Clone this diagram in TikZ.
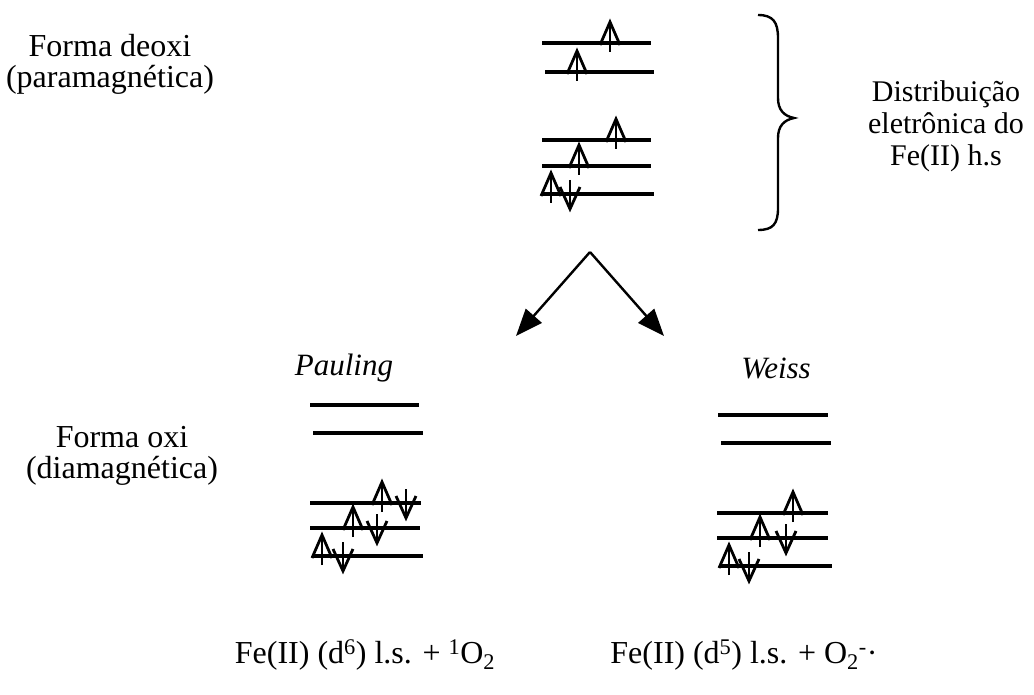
\documentclass[tikz,border=0pt]{standalone}
\usepackage{fontspec}
\setmainfont{Liberation Serif}
\usetikzlibrary{arrows.meta}
\tikzset{
  txt/.style={font=\fontsize{30}{32}\selectfont, inner sep=0pt, align=center},
  sidetxt/.style={font=\fontsize{32}{31}\selectfont, inner sep=0pt, align=center},
  bigtxt/.style={font=\fontsize{32}{34}\selectfont, inner sep=0pt},
  level/.style={line width=3.2pt},
  spin/.style={line width=2.8pt},
  spinup/.pic={
    \draw[spin] (0,9) -- (0,-21);
    \draw[spin, line join=miter] (-10,2) -- (0,-21) -- (10,2);
  },
  spindown/.pic={
    \draw[spin] (0,-14) -- (0,15);
    \draw[spin, line join=miter] (-10,-7) -- (0,15) -- (10,-7);
  },
  route/.style={line width=2.4pt, -{Triangle[length=27pt,width=21pt]}}
}
\begin{document}
\begin{tikzpicture}[x=1pt, y=-1pt]
\useasboundingbox (0,0) rectangle (1034,695);

% left-hand labels
\node[sidetxt] (deoxi) at (110,64) {Forma deoxi\\(paramagnética)};
\node[sidetxt] (oxi) at (122,456) {Forma oxi\\(diamagnética)};

% Fe(II) high spin d6 levels
\draw[level] (542,43) -- (651,43);
\draw[level] (545,72) -- (654,72);
\draw[level] (542,140) -- (651,140);
\draw[level] (542,166) -- (651,166);
\draw[level] (542,194) -- (654,194);
\pic at (610,43) {spinup};
\pic at (577,72) {spinup};
\pic at (616,140) {spinup};
\pic at (579,166) {spinup};
\pic at (551,194) {spinup};
\pic at (570,194) {spindown};

% brace and its caption
\draw[line width=2.4pt] (758,15) .. controls (773,15) and (778,22) .. (778,38)
  -- (778,98) .. controls (778,110) and (784,116) .. (794,118)
  .. controls (784,120) and (778,126) .. (778,138)
  -- (778,208) .. controls (778,224) and (773,230) .. (758,230);
\node[txt] (distr) at (946,126) {Distribuição\\eletrônica do\\Fe(II) h.s};

% the two models
\coordinate (apex) at (590,252);
\node[txt, font=\fontsize{31}{32}\selectfont\itshape] (pauling) at (344,368) {Pauling};
\node[txt, font=\fontsize{31}{32}\selectfont\itshape] (weiss) at (776,368) {Weiss};
\coordinate (ltip) at (516,336);
\coordinate (rtip) at (664,336);
\draw[route] (apex) -- (ltip);
\draw[route] (apex) -- (rtip);

% Pauling: low spin d6
\draw[level] (310,405) -- (419,405);
\draw[level] (313,433) -- (423,433);
\draw[level] (310,503) -- (421,503);
\draw[level] (310,528) -- (420,528);
\draw[level] (313,556) -- (423,556);
\pic at (382,503) {spinup};
\pic at (406,503) {spindown};
\pic at (353,528) {spinup};
\pic at (377,528) {spindown};
\pic at (322,556) {spinup};
\pic at (343,556) {spindown};

% Weiss: low spin d5
\draw[level] (718,415) -- (828,415);
\draw[level] (721,443) -- (831,443);
\draw[level] (717,513) -- (828,513);
\draw[level] (717,538) -- (828,538);
\draw[level] (720,566) -- (832,566);
\pic at (793,513) {spinup};
\pic at (760,538) {spinup};
\pic at (786,538) {spindown};
\pic at (729,566) {spinup};
\pic at (749,566) {spindown};

% bottom formulas
\node[bigtxt] (fpaul) at (365,655) {Fe(II) (d\textsuperscript{6}) l.s. + \textsuperscript{1}O\textsubscript{2}};
\node[bigtxt] (fweiss) at (744,655) {Fe(II) (d\textsuperscript{5}) l.s. + O\textsubscript{2}\textsuperscript{-}·};
\end{tikzpicture}
\end{document}
